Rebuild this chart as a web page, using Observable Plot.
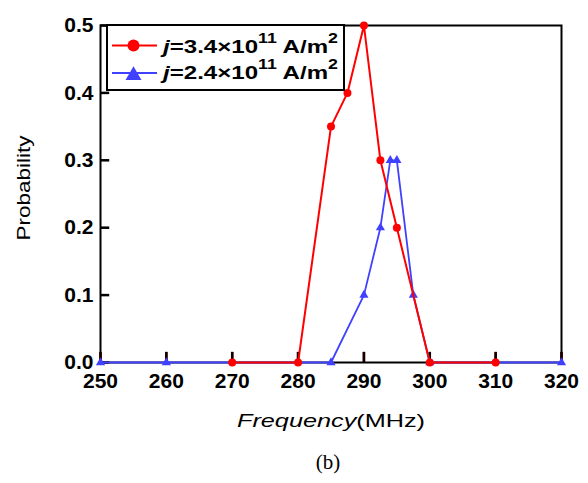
<!DOCTYPE html>
<html><head><meta charset="utf-8">
<script src="https://cdn.jsdelivr.net/npm/d3@7"></script>
<script src="https://cdn.jsdelivr.net/npm/@observablehq/plot@0.6"></script>
<style>body{margin:0;background:#fff;}</style>
</head><body><div id="chart"></div>
<script>
// ---- data ----
const redFreq = [270, 280, 285, 287.5, 290, 292.5, 295, 300, 310];
const redProb = [0, 0, 0.35, 0.4, 0.5, 0.3, 0.2, 0, 0];
const blueFreq = [250, 260, 285, 290, 292.5, 294, 295, 297.5, 300, 320];
const blueProb = [0, 0, 0, 0.1, 0.2, 0.3, 0.3, 0.1, 0, 0];
const xTicks = [250, 260, 270, 280, 290, 300, 310, 320];
const yTicks = [0, 0.1, 0.2, 0.3, 0.4, 0.5];
const seriesJ = ["3.4", "2.4"];
const xLabelItalic = "Frequency";
const xLabelUnit = "(MHz)";
const yLabel = "Probability";
const caption = "(b)";

const RED = "#ff0000", BLUE = "#4040ff";
const FONT = "'Liberation Sans', Arial, Helvetica, sans-serif";

const red = redFreq.map((f, i) => ({f, p: redProb[i]}));
const blue = blueFreq.map((f, i) => ({f, p: blueProb[i]}));

const plot = Plot.plot({
  width: 588, height: 483,
  marginLeft: 100, marginRight: 27, marginTop: 25, marginBottom: 121,
  style: {fontFamily: FONT, fontSize: "21px", fontWeight: "bold", background: "white", overflow: "visible"},
  x: {domain: [250, 320], ticks: xTicks, tickSize: 0, tickPadding: 11, tickFormat: d => String(d), label: null},
  y: {domain: [0, 0.5], ticks: yTicks, tickSize: 0, tickPadding: 7, tickFormat: d3.format(".1f"), label: null},
  marks: [
    Plot.frame({stroke: "black", strokeWidth: 2}),
    Plot.ruleX(xTicks, {x: d => d, y1: d => 0, y2: d => 0.015, stroke: "red", strokeWidth: 2.5, strokeOpacity: 1}),
    Plot.ruleX(xTicks, {x: d => d, y1: d => 0, y2: d => 0.015, stroke: "black", strokeWidth: 2.5}),
    Plot.ruleY(yTicks, {y: d => d, x1: d => 250, x2: d => 251.4, stroke: "black", strokeWidth: 2.5}),
    Plot.line(blue, {x: "f", y: "p", stroke: BLUE, strokeWidth: 1.8}),
    Plot.dot(blue, {x: "f", y: "p", symbol: "triangle", r: 3.4, fill: BLUE}),
    Plot.line(red, {x: "f", y: "p", stroke: RED, strokeWidth: 2}),
    Plot.dot(red, {x: "f", y: "p", r: 4, fill: RED})
  ]
});
document.getElementById("chart").appendChild(plot);

const svg = d3.select(plot);

// y label
svg.append("text")
  .attr("transform", "translate(29.5,188) rotate(-90)")
  .attr("text-anchor", "middle")
  .style("font-family", FONT).style("font-size", "18px").style("font-weight", "normal")
  .attr("textLength", 105).attr("lengthAdjust", "spacingAndGlyphs")
  .text(yLabel);

// x label
const xl = svg.append("text")
  .attr("x", 331).attr("y", 427)
  .attr("text-anchor", "middle")
  .style("font-family", FONT).style("font-size", "19px").style("font-weight", "normal")
  .attr("textLength", 188).attr("lengthAdjust", "spacingAndGlyphs");
xl.append("tspan").style("font-style", "italic").text(xLabelItalic);
xl.append("tspan").text(xLabelUnit);

// caption
svg.append("text")
  .attr("x", 328).attr("y", 469)
  .attr("text-anchor", "middle")
  .style("font-family", "'Liberation Serif', 'Times New Roman', serif").style("font-size", "21px").style("font-weight", "normal")
  .text(caption);

// legend
const lg = svg.append("g");
lg.append("rect").attr("x", 107).attr("y", 25).attr("width", 237).attr("height", 65)
  .attr("fill", "white").attr("stroke", "black").attr("stroke-width", 2);
const rows = [
  {y: 45.5, color: RED, sym: "circle", j: seriesJ[0], base: 53},
  {y: 73, color: BLUE, sym: "triangle", j: seriesJ[1], base: 79}
];
rows.forEach(r => {
  lg.append("line").attr("x1", 112).attr("x2", 157).attr("y1", r.y).attr("y2", r.y)
    .attr("stroke", r.color).attr("stroke-width", 2);
  if (r.sym === "circle") {
    lg.append("circle").attr("cx", 133.5).attr("cy", r.y).attr("r", 6).attr("fill", r.color);
  } else {
    lg.append("path").attr("d", d3.symbol(d3.symbolTriangle, 110)())
      .attr("transform", `translate(133.5,${r.y + 2.5})`).attr("fill", r.color);
  }
  const t = lg.append("text").attr("x", 163).attr("y", r.base)
    .attr("text-anchor", "start")
    .style("font-family", FONT).style("font-size", "19px").style("font-weight", "bold")
    .attr("textLength", 175).attr("lengthAdjust", "spacingAndGlyphs");
  t.append("tspan").style("font-style", "italic").text("j");
  t.append("tspan").text("=" + r.j + "\u00d710");
  t.append("tspan").attr("dy", -10).style("font-size", "14px").text("11");
  t.append("tspan").attr("dy", 10).text(" A/m");
  t.append("tspan").attr("dy", -10).style("font-size", "14px").text("2");
});
</script>
</body></html>
